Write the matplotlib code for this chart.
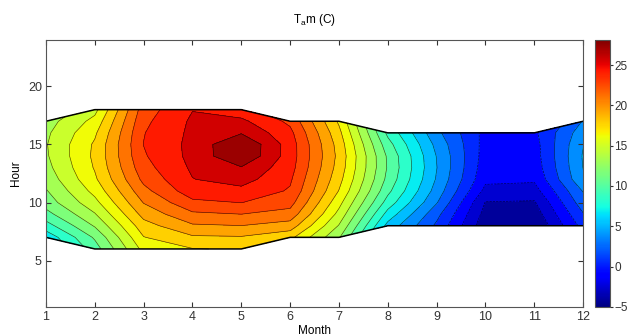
import numpy as np
import matplotlib
matplotlib.use("Agg")
import matplotlib.pyplot as plt
from matplotlib.colors import Normalize
from matplotlib.cm import ScalarMappable

plt.rcParams["font.family"] = ["Liberation Sans", "DejaVu Sans"]

# months on x, daylight hours on y
months = [1, 2, 3, 4, 5, 6, 7, 8, 9, 10, 11, 12]
start_hour = [7, 6, 6, 6, 6, 7, 7, 8, 8, 8, 8, 8]
end_hour = [17, 18, 18, 18, 18, 17, 17, 16, 16, 16, 16, 17]

# mean ambient temperature (C), one value per hour from start_hour to end_hour
t_jan = [6.5, 8.5, 10.2, 11.5, 12.2, 12.9, 13.4, 13.7, 13.8, 13.6, 13.2]
t_feb = [10.0, 11.0, 12.5, 13.8, 15.0, 16.0, 16.8, 17.2, 17.4, 17.3, 16.8, 16.0, 15.0]
t_mar = [16.0, 17.0, 18.0, 19.2, 20.3, 21.3, 22.2, 22.8, 23.2, 23.4, 23.3, 23.0, 22.6]
t_apr = [17.0, 18.4, 20.0, 21.5, 23.0, 24.3, 24.9, 25.2, 25.4, 25.4, 25.3, 25.2, 24.9]
t_may = [17.2, 18.5, 20.2, 21.8, 23.4, 24.5, 25.6, 26.4, 28.0, 28.1, 26.4, 25.3, 24.0]
t_jun = [17.5, 19.5, 21.2, 22.4, 23.2, 23.6, 24.0, 24.2, 24.2, 23.8, 23.0]
t_jul = [12.5, 13.8, 15.0, 16.0, 17.0, 17.6, 18.0, 18.2, 18.0, 17.5, 16.8]
t_aug = [5.5, 7.0, 8.5, 9.6, 10.3, 10.6, 10.5, 9.8, 8.8]
t_sep = [1.0, 1.8, 3.0, 3.8, 4.3, 4.5, 4.4, 4.0, 3.3]
t_oct = [-4.5, -4.0, -3.5, -2.3, -1.5, -1.2, -1.0, -0.9, -0.8]
t_nov = [-5.0, -4.3, -3.6, -2.5, -1.6, -1.2, -1.0, -0.9, -0.6]
t_dec = [0.3, 1.2, 2.2, 3.0, 4.2, 4.5, 4.6, 4.4, 3.8, 3.0]

temps = [t_jan, t_feb, t_mar, t_apr, t_may, t_jun,
         t_jul, t_aug, t_sep, t_oct, t_nov, t_dec]

# build hour x month grid, NaN outside daylight
hours = np.arange(min(start_hour), max(end_hour) + 1)
Z = np.full((len(hours), len(months)), np.nan)
for j, vals in enumerate(temps):
    i0 = start_hour[j] - hours[0]
    Z[i0:i0 + len(vals), j] = vals
Z = np.ma.masked_invalid(Z)

# 20 contour levels between data min and max (like contourf(...,20))
zmin, zmax = Z.min(), Z.max()
levels = np.linspace(zmin, zmax, 22)
cmap = plt.get_cmap("jet")
norm = Normalize(vmin=zmin, vmax=zmax)

fig = plt.figure(figsize=(6.29, 3.35), dpi=100)
ax = fig.add_axes([0.0731, 0.0836, 0.854, 0.797])

ax.contourf(months, hours, Z, levels=levels, cmap=cmap, norm=norm, corner_mask=True)
ax.contour(months, hours, Z, levels=levels, colors="k", linewidths=0.45,
           alpha=0.7, corner_mask=True)
# outline of the daylight region
ax.plot(months, start_hour, color="k", lw=1.1)
ax.plot(months, end_hour, color="k", lw=1.1)

ax.set_xlim(1, 12)
ax.set_ylim(1, 24)
ax.set_xticks(months)
ax.set_yticks([5, 10, 15, 20])
ax.tick_params(direction="in", length=3.5, top=True, right=True,
               labelsize=9, colors="#333333", pad=3)
for sp in ax.spines.values():
    sp.set_color("#555555")
    sp.set_linewidth(0.8)

ax.set_xlabel("Month", fontsize=8.5, labelpad=1)
ax.set_ylabel("Hour", fontsize=8.5, labelpad=4)
ax.set_title(r"$\mathregular{T_a}$m (C)", fontsize=8.5, pad=12)

cax = fig.add_axes([0.946, 0.0836, 0.024, 0.797])
cb = fig.colorbar(ScalarMappable(norm=norm, cmap=cmap), cax=cax)
cb.set_ticks([-5, 0, 5, 10, 15, 20, 25])
cb.ax.tick_params(labelsize=8.5, length=2, colors="#333333", pad=1)
cb.outline.set_edgecolor("#555555")
cb.outline.set_linewidth(0.8)

fig.savefig("out.png", dpi=100)
